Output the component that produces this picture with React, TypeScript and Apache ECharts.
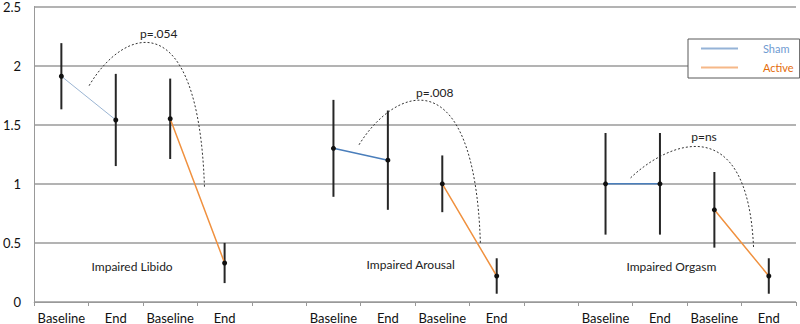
import React, { useEffect, useRef } from "react";
import * as echarts from "echarts";

const categories = ["Baseline", "End", "Baseline", "End", "", "Baseline", "End", "Baseline", "End", "", "Baseline", "End", "Baseline", "End"];
const shamMean = [1.91, 1.54, null, null, null, 1.30, 1.20, null, null, null, 1.00, 1.00, null, null];
const activeMean = [null, null, 1.55, 0.33, null, null, null, 1.00, 0.22, null, null, null, 0.78, 0.22];
const errHigh = [2.19, 1.93, 1.89, 0.50, null, 1.71, 1.62, 1.24, 0.37, null, 1.43, 1.43, 1.10, 0.37];
const errLow = [1.63, 1.15, 1.21, 0.16, null, 0.89, 0.78, 0.76, 0.07, null, 0.57, 0.57, 0.46, 0.07];
const yTicks = [0, 0.5, 1, 1.5, 2, 2.5];

const curveStart = [[0.51, 1.83], [5.47, 1.33], [10.46, 1.05]];
const curveCtrl1 = [[1.15, 2.33], [6.14, 1.83], [11.14, 1.35]];
const curveCtrl2 = [[2.52, 2.54], [7.59, 2.07], [12.61, 1.64]];
const curveEnd = [[2.63, 0.97], [7.70, 0.50], [12.72, 0.46]];

const pLabels = ["p=.054", "p=.008", "p=ns"];
const pPos = [[1.79, 2.27], [6.86, 1.775], [11.81, 1.40]];
const groupLabels = ["Impaired Libido", "Impaired Arousal", "Impaired Orgasm"];
const groupPos = [[1.30, 0.30], [6.42, 0.32], [11.21, 0.30]];

const FONT = "Lato";

export default function App() {
  const ref = useRef<HTMLDivElement>(null);
  useEffect(() => {
    document.body.style.margin = "0";
    const chart = echarts.init(ref.current!, null, { renderer: "svg" });
    const errData = errLow
      .map((lo, i) => (lo == null ? null : [i, lo, errHigh[i]]))
      .filter((d) => d !== null);
    const curveData = curveStart.map((s, i) => [...s, ...curveCtrl1[i], ...curveCtrl2[i], ...curveEnd[i]]);
    const textData = [
      ...pLabels.map((t, i) => ({ value: pPos[i], name: t })),
      ...groupLabels.map((t, i) => ({ value: groupPos[i], name: t })),
    ];
    const option: any = {
      animation: false,
      backgroundColor: "#fff",
      grid: { left: 30, right: 4, top: 5, bottom: 22, containLabel: false },
      legend: {
        orient: "vertical",
        left: 688,
        top: 39,
        selectedMode: false,
        itemWidth: 37,
        itemHeight: 2,
        itemGap: 8,
        padding: [4, 6, 5, 13],
        backgroundColor: "#fff",
        borderColor: "#595959",
        borderWidth: 1,
        textStyle: { fontSize: 11, fontFamily: FONT, padding: [0, 0, 0, 20] },
        data: [
          { name: "Sham", icon: "rect", itemStyle: { color: "#95b3d7" }, textStyle: { color: "#6f9bd1" } },
          { name: "Active", icon: "rect", itemStyle: { color: "#f6b888" }, textStyle: { color: "#e46c0a" } },
        ],
      },
      xAxis: [
        {
          type: "category",
          data: categories,
          boundaryGap: true,
          axisLine: { onZero: false, lineStyle: { color: "#999", width: 1 } },
          axisTick: { show: true, interval: 0, length: 4, lineStyle: { color: "#999" } },
          axisLabel: { interval: 0, margin: 9, fontSize: 13, color: "#111", fontFamily: FONT },
          splitLine: { show: false },
        },
        { type: "value", min: -0.5, max: 13.5, show: false },
      ],
      yAxis: {
        type: "value",
        min: yTicks[0],
        max: yTicks[yTicks.length - 1],
        interval: 0.5,
        axisLine: { show: true, onZero: false, lineStyle: { color: "#999", width: 1 } },
        axisTick: { show: false },
        axisLabel: { margin: 13, fontSize: 13, color: "#111", fontFamily: FONT },
        splitLine: { show: true, lineStyle: { color: "#9a9a9a", width: 1.5 } },
      },
      series: [
        {
          type: "custom",
          name: "err",
          xAxisIndex: 0,
          z: 1,
          data: errData,
          encode: { x: 0, y: [1, 2] },
          renderItem: (params: any, api: any) => {
            const a = api.coord([api.value(0), api.value(1)]);
            const b = api.coord([api.value(0), api.value(2)]);
            return {
              type: "line",
              shape: { x1: a[0], y1: a[1], x2: b[0], y2: b[1] },
              style: { stroke: "#262626", lineWidth: 2 },
            };
          },
        },
        {
          type: "line",
          name: "Sham",
          z: 3,
          data: shamMean.map((v, i) => (i < 4 ? v : null)),
          connectNulls: false,
          symbol: "circle",
          symbolSize: 5,
          showSymbol: true,
          itemStyle: { color: "#111" },
          lineStyle: { color: "#9bb5d3", width: 1 },
        },
        {
          type: "line",
          name: "Sham",
          z: 3,
          data: shamMean.map((v, i) => (i < 4 ? null : v)),
          connectNulls: false,
          symbol: "circle",
          symbolSize: 5,
          showSymbol: true,
          itemStyle: { color: "#111" },
          lineStyle: { color: "#4a7ebb", width: 1.5 },
        },
        {
          type: "line",
          name: "Active",
          z: 3,
          data: activeMean,
          connectNulls: false,
          symbol: "circle",
          symbolSize: 5,
          showSymbol: true,
          itemStyle: { color: "#111" },
          lineStyle: { color: "#f0913f", width: 1.5 },
        },
        {
          type: "custom",
          name: "curves",
          xAxisIndex: 1,
          z: 2,
          data: curveData,
          encode: { x: [0, 2, 4, 6], y: [1, 3, 5, 7] },
          renderItem: (params: any, api: any) => {
            const s = api.coord([api.value(0), api.value(1)]);
            const c1 = api.coord([api.value(2), api.value(3)]);
            const c2 = api.coord([api.value(4), api.value(5)]);
            const e = api.coord([api.value(6), api.value(7)]);
            return {
              type: "bezierCurve",
              shape: { x1: s[0], y1: s[1], cpx1: c1[0], cpy1: c1[1], cpx2: c2[0], cpy2: c2[1], x2: e[0], y2: e[1] },
              style: { stroke: "#333", lineWidth: 1, lineDash: [2, 2], fill: null },
            };
          },
        },
        {
          type: "custom",
          name: "texts",
          xAxisIndex: 1,
          z: 4,
          data: textData,
          encode: { x: 0, y: 1 },
          renderItem: (params: any, api: any) => {
            const p = api.coord([api.value(0), api.value(1)]);
            return {
              type: "text",
              x: p[0],
              y: p[1],
              style: {
                text: textData[params.dataIndex].name,
                fontSize: 12,
                fontFamily: FONT,
                fill: "#222",
                align: "center",
                verticalAlign: "middle",
              },
            };
          },
        },
      ],
    };
    chart.setOption(option);
    return () => chart.dispose();
  }, []);
  return <div ref={ref} style={{ width: 800, height: 324 }} />;
}
